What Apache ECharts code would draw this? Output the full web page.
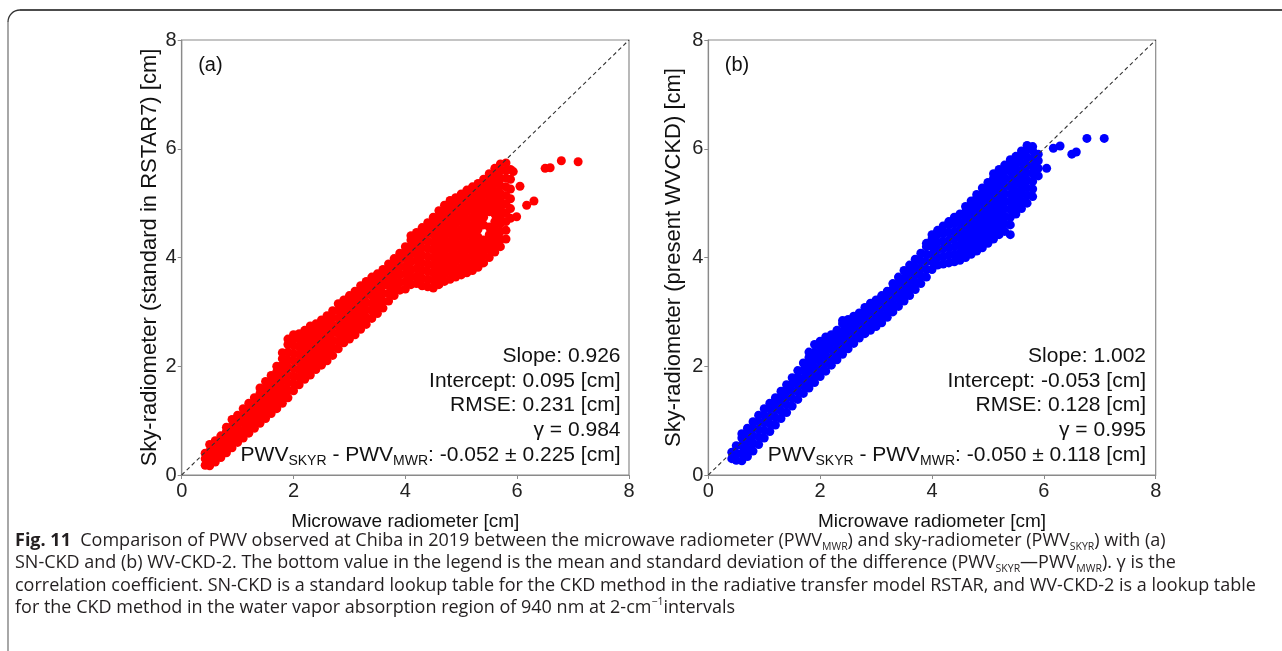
<!DOCTYPE html>
<html>
<head>
<meta charset="utf-8">
<script src="https://cdn.jsdelivr.net/npm/echarts@6/dist/echarts.min.js"></script>
<style>
  html, body { margin: 0; padding: 0; background: #fff; }
  #main { width: 1282px; height: 651px; }
</style>
</head>
<body>
<div id="main"></div>
<script>
// axis range (cm), both panels
const axisTicks = [0, 2, 4, 6, 8];

const redCols = [
  [0.42, 0.18, 0.3, 0.4],
  [0.5, 0.17, 0.3, 0.44, 0.56],
  [0.6, 0.24, 0.37, 0.5, 0.63],
  [0.7, 0.32, 0.45, 0.58, 0.72],
  [0.8, 0.41, 0.54, 0.67, 0.8, 0.88],
  [0.9, 0.5, 0.63, 0.76, 0.9, 1.02],
  [1.0, 0.6, 0.73, 0.86, 0.99, 1.1],
  [1.1, 0.68, 0.82, 0.96, 1.1, 1.22],
  [1.2, 0.77, 0.91, 1.05, 1.19, 1.32],
  [1.3, 0.86, 1.0, 1.14, 1.28, 1.42],
  [1.4, 0.95, 1.09, 1.23, 1.37, 1.5, 1.6],
  [1.5, 1.04, 1.18, 1.32, 1.46, 1.6, 1.72],
  [1.6, 1.13, 1.27, 1.41, 1.55, 1.69, 1.83],
  [1.7, 1.22, 1.36, 1.5, 1.64, 1.78, 1.9, 2.0],
  [1.8, 1.32, 1.46, 1.6, 1.74, 1.88, 2.02, 2.14, 2.25],
  [1.9, 1.42, 1.56, 1.7, 1.84, 1.98, 2.12, 2.26, 2.4, 2.5],
  [2.0, 1.55, 1.68, 1.82, 1.96, 2.1, 2.24, 2.38, 2.5, 2.58],
  [2.1, 1.66, 1.8, 1.94, 2.08, 2.22, 2.36, 2.5, 2.6],
  [2.2, 1.76, 1.9, 2.04, 2.18, 2.32, 2.46, 2.58, 2.66],
  [2.3, 1.84, 1.98, 2.12, 2.26, 2.4, 2.54, 2.66, 2.74],
  [2.4, 1.94, 2.08, 2.22, 2.36, 2.5, 2.64, 2.78],
  [2.5, 2.02, 2.16, 2.3, 2.44, 2.58, 2.72, 2.85],
  [2.6, 2.1, 2.24, 2.38, 2.52, 2.66, 2.8, 2.93],
  [2.7, 2.2, 2.34, 2.48, 2.62, 2.76, 2.9, 3.02],
  [2.8, 2.32, 2.46, 2.6, 2.74, 2.88, 3.02, 3.15],
  [2.9, 2.43, 2.56, 2.7, 2.84, 2.98, 3.1, 3.22],
  [3.0, 2.5, 2.64, 2.78, 2.92, 3.06, 3.2, 3.3],
  [3.1, 2.58, 2.72, 2.86, 3.0, 3.14, 3.27, 3.38],
  [3.2, 2.68, 2.82, 2.96, 3.1, 3.24, 3.37, 3.48],
  [3.3, 2.77, 2.9, 3.04, 3.18, 3.32, 3.45, 3.56],
  [3.4, 2.88, 3.02, 3.16, 3.3, 3.44, 3.55, 3.64],
  [3.5, 2.97, 3.1, 3.24, 3.38, 3.5, 3.62, 3.7],
  [3.6, 3.07, 3.2, 3.34, 3.48, 3.6, 3.7, 3.78],
  [3.7, 3.2, 3.34, 3.48, 3.62, 3.76, 3.88],
  [3.8, 3.3, 3.44, 3.58, 3.72, 3.86, 3.98],
  [3.9, 3.4, 3.54, 3.68, 3.82, 3.96, 4.08],
  [4.0, 3.42, 3.56, 3.7, 3.84, 3.98, 4.1, 4.2],
  [4.1, 3.5, 3.64, 3.78, 3.92, 4.06, 4.2, 4.32, 4.4],
  [4.2, 3.52, 3.66, 3.8, 3.94, 4.08, 4.22, 4.34, 4.46],
  [4.3, 3.48, 3.62, 3.76, 3.9, 4.04, 4.18, 4.32, 4.44, 4.55],
  [4.4, 3.46, 3.6, 3.74, 3.88, 4.02, 4.16, 4.3, 4.44, 4.56, 4.64],
  [4.5, 3.44, 3.58, 3.72, 3.86, 4.0, 4.14, 4.28, 4.42, 4.56, 4.68, 4.74],
  [4.6, 3.5, 3.64, 3.78, 3.92, 4.06, 4.2, 4.34, 4.48, 4.62, 4.76, 4.86],
  [4.7, 3.56, 3.7, 3.84, 3.98, 4.12, 4.26, 4.4, 4.54, 4.68, 4.82, 4.96],
  [4.8, 3.6, 3.74, 3.88, 4.02, 4.16, 4.3, 4.44, 4.58, 4.72, 4.86, 4.98, 5.05],
  [4.9, 3.64, 3.78, 3.92, 4.06, 4.2, 4.34, 4.48, 4.62, 4.76, 4.9, 5.02, 5.1],
  [5.0, 3.68, 3.82, 3.96, 4.1, 4.24, 4.38, 4.52, 4.66, 4.8, 4.94, 5.06, 5.17],
  [5.1, 3.72, 3.86, 4.0, 4.14, 4.28, 4.42, 4.56, 4.7, 4.84, 4.98, 5.12, 5.24],
  [5.2, 3.76, 3.9, 4.04, 4.18, 4.32, 4.46, 4.6, 4.74, 4.88, 5.02, 5.16, 5.3],
  [5.3, 3.82, 3.96, 4.1, 4.24, 4.38, 4.52, 4.66, 4.8, 4.94, 5.08, 5.22, 5.36],
  [5.4, 3.9, 4.04, 4.18, 4.32, 4.6, 4.74, 4.88, 5.02, 5.16, 5.3, 5.44],
  [5.5, 4.0, 4.14, 4.28, 4.42, 4.56, 4.84, 4.98, 5.12, 5.26, 5.4, 5.54],
  [5.6, 4.1, 4.24, 4.38, 4.52, 4.66, 4.8, 4.94, 5.08, 5.22, 5.36, 5.5, 5.64],
  [5.7, 4.2, 4.34, 4.48, 4.62, 4.76, 4.9, 5.04, 5.18, 5.32, 5.46, 5.6, 5.72],
  [5.8, 4.34, 4.5, 4.66, 4.82, 4.98, 5.14, 5.3, 5.46, 5.6, 5.74],
  [5.88, 4.72, 4.9, 5.08, 5.26, 5.44, 5.62]
];
const redOutliers = [
  [5.93, 5.58], [6.05, 5.31], [5.99, 4.75], [6.17, 4.96], [6.3, 5.04],
  [6.5, 5.64], [6.59, 5.65], [6.79, 5.78], [7.09, 5.76]
];

// (b) WV-CKD-2
const blueCols = [
  [0.42, 0.3, 0.42],
  [0.5, 0.27, 0.4, 0.54],
  [0.6, 0.26, 0.4, 0.54, 0.68, 0.76],
  [0.7, 0.34, 0.48, 0.62, 0.76, 0.86],
  [0.8, 0.44, 0.58, 0.72, 0.86, 0.98],
  [0.9, 0.56, 0.7, 0.84, 0.98, 1.1],
  [1.0, 0.68, 0.82, 0.96, 1.1, 1.22],
  [1.1, 0.8, 0.94, 1.08, 1.22, 1.32],
  [1.2, 0.92, 1.06, 1.2, 1.32, 1.42],
  [1.3, 1.04, 1.18, 1.32, 1.44, 1.54],
  [1.4, 1.15, 1.29, 1.43, 1.56, 1.66],
  [1.5, 1.27, 1.41, 1.55, 1.68, 1.79],
  [1.6, 1.39, 1.53, 1.67, 1.8, 1.92],
  [1.7, 1.5, 1.64, 1.78, 1.92, 2.06],
  [1.8, 1.6, 1.74, 1.88, 2.02, 2.16, 2.26],
  [1.9, 1.7, 1.84, 1.98, 2.12, 2.26, 2.4],
  [2.0, 1.81, 1.95, 2.09, 2.23, 2.37, 2.46],
  [2.1, 1.91, 2.05, 2.19, 2.33, 2.46, 2.54],
  [2.2, 2.02, 2.16, 2.3, 2.44, 2.58],
  [2.3, 2.12, 2.26, 2.4, 2.54, 2.66],
  [2.4, 2.22, 2.36, 2.5, 2.64, 2.78, 2.84],
  [2.5, 2.32, 2.46, 2.6, 2.74, 2.86],
  [2.6, 2.42, 2.56, 2.7, 2.84, 2.92],
  [2.7, 2.52, 2.64, 2.78, 2.9, 2.98],
  [2.8, 2.6, 2.72, 2.86, 2.98, 3.08],
  [2.9, 2.66, 2.8, 2.94, 3.06, 3.16],
  [3.0, 2.73, 2.86, 3.0, 3.12, 3.22],
  [3.1, 2.8, 2.94, 3.08, 3.2, 3.3],
  [3.2, 2.9, 3.04, 3.18, 3.3, 3.38],
  [3.3, 3.0, 3.14, 3.28, 3.42, 3.52],
  [3.4, 3.1, 3.24, 3.38, 3.52, 3.64],
  [3.5, 3.2, 3.34, 3.48, 3.62, 3.76],
  [3.6, 3.3, 3.44, 3.58, 3.72, 3.86],
  [3.7, 3.41, 3.55, 3.69, 3.83, 3.97],
  [3.8, 3.52, 3.66, 3.8, 3.94, 4.08],
  [3.9, 3.64, 3.78, 3.92, 4.06, 4.2, 4.26],
  [4.0, 3.78, 3.92, 4.06, 4.2, 4.34, 4.42],
  [4.1, 3.86, 4.0, 4.14, 4.28, 4.42, 4.5],
  [4.2, 3.88, 4.02, 4.16, 4.3, 4.44, 4.58],
  [4.3, 3.9, 4.04, 4.18, 4.32, 4.46, 4.6, 4.66],
  [4.4, 3.92, 4.06, 4.2, 4.34, 4.48, 4.62, 4.74],
  [4.5, 3.95, 4.09, 4.23, 4.37, 4.51, 4.65, 4.8],
  [4.6, 4.0, 4.14, 4.28, 4.42, 4.56, 4.7, 4.84, 4.94],
  [4.7, 4.06, 4.2, 4.34, 4.48, 4.62, 4.76, 4.9, 5.04],
  [4.8, 4.12, 4.26, 4.4, 4.54, 4.68, 4.82, 4.96, 5.1, 5.16],
  [4.9, 4.18, 4.32, 4.46, 4.6, 4.74, 4.88, 5.02, 5.16, 5.28],
  [5.0, 4.26, 4.4, 4.54, 4.68, 4.82, 4.96, 5.1, 5.24, 5.38],
  [5.1, 4.34, 4.48, 4.62, 4.76, 4.9, 5.04, 5.18, 5.32, 5.46, 5.54],
  [5.2, 4.42, 4.56, 4.7, 4.84, 4.98, 5.12, 5.26, 5.4, 5.54, 5.62],
  [5.3, 4.48, 4.62, 4.76, 4.9, 5.04, 5.18, 5.32, 5.46, 5.6, 5.7],
  [5.4, 4.6, 4.74, 4.88, 5.02, 5.16, 5.3, 5.44, 5.58, 5.72, 5.8],
  [5.5, 4.8, 4.94, 5.08, 5.22, 5.36, 5.5, 5.64, 5.78, 5.86],
  [5.6, 4.9, 5.04, 5.18, 5.32, 5.46, 5.6, 5.74, 5.88, 5.96],
  [5.7, 5.0, 5.14, 5.28, 5.42, 5.56, 5.7, 5.84, 5.98, 6.06],
  [5.8, 5.12, 5.26, 5.4, 5.54, 5.68, 5.82, 5.96, 6.04],
  [5.9, 5.5, 5.64, 5.78, 5.9]
];
const blueOutliers = [
  [5.4, 4.42], [6.05, 5.64], [6.17, 6.01], [6.29, 6.05], [6.5, 5.9],
  [6.58, 5.94], [6.77, 6.19], [7.08, 6.19]
];

const oneToOne = [[0, 0], [8, 8]];

const panelTags = ['(a)', '(b)'];
const yNames = ['Sky-radiometer (standard in RSTAR7) [cm]', 'Sky-radiometer (present WVCKD) [cm]'];
const xName = 'Microwave radiometer [cm]';
const statsA = ['Slope: 0.926', 'Intercept: 0.095 [cm]', 'RMSE: 0.231 [cm]', 'γ = 0.984'];
const statsB = ['Slope: 1.002', 'Intercept: -0.053 [cm]', 'RMSE: 0.128 [cm]', 'γ = 0.995'];
const diffA = ['-0.052', '0.225'];
const diffB = ['-0.050', '0.118'];

const captionLines = [
  '{b|Fig. 11}  Comparison of PWV observed at Chiba in 2019 between the microwave radiometer (PWV{s|MWR}) and sky-radiometer (PWV{s|SKYR}) with (a)',
  'SN-CKD and (b) WV-CKD-2. The bottom value in the legend is the mean and standard deviation of the difference (PWV{s|SKYR}\u2014PWV{s|MWR}). \u03b3 is the',
  'correlation coefficient. SN-CKD is a standard lookup table for the CKD method in the radiative transfer model RSTAR, and WV-CKD-2 is a lookup table',
  'for the CKD method in the water vapor absorption region of 940 nm at 2-cm{p|\u22121}intervals'
];

const toPoints = cols => cols.flatMap(c => c.slice(1).map(y => [c[0], y]));

const FONT = "'Liberation Sans', Arial, sans-serif";
const CAP_FONT = "'Open Sans', 'Noto Sans', sans-serif";
const CAP_SIZE = 18;
const FRAME = '#8a8a8a';

const grids = [
  { left: 181.7, top: 40, width: 447.3, height: 435 },
  { left: 708.3, top: 40, width: 447.4, height: 435 }
];

function makeAxis(i, isY) {
  return {
    gridIndex: i,
    type: 'value',
    min: axisTicks[0],
    max: axisTicks[axisTicks.length - 1],
    interval: axisTicks[1] - axisTicks[0],
    axisLine: { show: true, onZero: false, lineStyle: { color: FRAME, width: 1.2 } },
    axisTick: { show: true, length: 4, lineStyle: { color: FRAME } },
    axisLabel: { color: '#222', fontSize: 20, fontFamily: FONT, margin: isY ? 5 : 6 },
    splitLine: { show: false },
    name: isY ? yNames[i] : xName,
    nameLocation: 'middle',
    nameGap: isY ? (i === 0 ? 21 : 23) : 37,
    nameTextStyle: { color: '#111', fontSize: isY ? 22 : 19, fontFamily: FONT }
  };
}

const statGraphics = [];
[[statsA, diffA, 620.5], [statsB, diffB, 1146]].forEach(([lines, diff, right], i) => {
  lines.forEach((t, k) => {
    statGraphics.push({
      type: 'text', x: right, y: 356 + k * 24.8,
      style: { text: t, fill: '#111', fontSize: 21, fontFamily: FONT, align: 'right', verticalAlign: 'middle' }
    });
  });
  statGraphics.push({
    type: 'text', x: right, y: 455,
    style: {
      text: 'PWV{s|SKYR} - PWV{s|MWR}: ' + diff[0] + ' \u00b1 ' + diff[1] + ' [cm]',
      fill: '#111', fontSize: 21, fontFamily: FONT, lineHeight: 26,
      align: 'right', verticalAlign: 'middle',
      rich: { s: { fontSize: 14, fontFamily: FONT, fill: '#111', lineHeight: 13, verticalAlign: 'bottom' } }
    }
  });
  statGraphics.push({
    type: 'text', x: grids[i].left + 16.5, y: 65,
    style: { text: panelTags[i], fill: '#111', fontSize: 20, fontFamily: FONT, align: 'left', verticalAlign: 'middle' }
  });
});

const captionGraphics = captionLines.map((t, k) => ({
  type: 'text', x: 15, y: 541 + k * 22.3,
  style: {
    text: t, fill: '#231f20', fontSize: CAP_SIZE, fontFamily: CAP_FONT, lineHeight: 23,
    align: 'left', verticalAlign: 'middle',
    rich: {
      b: { fontSize: CAP_SIZE, fontFamily: CAP_FONT, fontWeight: 'bold', fill: '#231f20', lineHeight: 23 },
      s: { fontSize: 10.5, fontFamily: CAP_FONT, fill: '#231f20', lineHeight: 11, verticalAlign: 'bottom' },
      p: { fontSize: 10.5, fontFamily: CAP_FONT, fill: '#231f20', lineHeight: 11, verticalAlign: 'top' }
    }
  }
}));

const borderGraphics = [
  { type: 'line', shape: { x1: 8, y1: 22, x2: 8, y2: 651 }, style: { stroke: '#6d6d6d', lineWidth: 1.2 } },
  { type: 'arc', shape: { cx: 20, cy: 22, r: 12, startAngle: Math.PI, endAngle: Math.PI * 1.5 },
    style: { stroke: '#333', lineWidth: 1.3, fill: null } },
  { type: 'line', shape: { x1: 20, y1: 10, x2: 1282, y2: 10 }, style: { stroke: '#111', lineWidth: 1.5 } }
];

const series = [];
[[redCols, redOutliers, '#ff0000'], [blueCols, blueOutliers, '#0000ff']].forEach(([cols, extra, color], i) => {
  series.push({
    type: 'scatter', xAxisIndex: i, yAxisIndex: i,
    data: toPoints(cols).concat(extra),
    symbolSize: 9, itemStyle: { color: color, opacity: 1 },
    silent: true, z: 2
  });
  series.push({
    type: 'line', xAxisIndex: i, yAxisIndex: i, data: oneToOne,
    symbol: 'none', silent: true, z: 5,
    lineStyle: { color: '#333', width: 1.1, type: [4, 3] }
  });
});

const chart = echarts.init(document.getElementById('main'), null, { renderer: 'canvas' });
chart.setOption({
  animation: false,
  backgroundColor: '#fff',
  grid: grids.map(g => Object.assign({ show: true, borderColor: FRAME, borderWidth: 1.2, outerBoundsMode: 'none' }, g)),
  xAxis: [makeAxis(0, false), makeAxis(1, false)],
  yAxis: [makeAxis(0, true), makeAxis(1, true)],
  series: series,
  graphic: { elements: borderGraphics.concat(statGraphics, captionGraphics) }
});
</script>
</body>
</html>
